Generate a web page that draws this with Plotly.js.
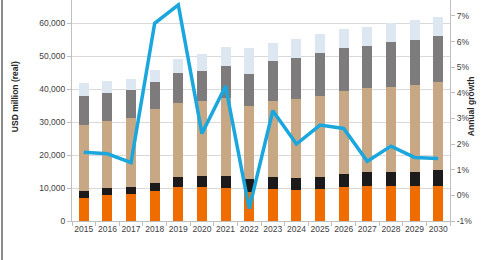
<!DOCTYPE html>
<html>
<head>
<meta charset="utf-8">
<script src="https://cdn.plot.ly/plotly-3.0.1.min.js"></script>
<style>
html,body{margin:0;padding:0;background:#fff;}
#chart{width:500px;height:260px;}
</style>
</head>
<body>
<div id="chart"></div>
<script>
const years = ['2015','2016','2017','2018','2019','2020','2021','2022','2023','2024','2025','2026','2027','2028','2029','2030'];
// stacked segment heights (USD million, real)
const orangeSeg = [7110, 7810, 8120, 9030, 10450, 10450, 10150, 8810, 9850, 9540, 9640, 10240, 10550, 10550, 10550, 10760];
const blackSeg  = [2130, 2130, 2330, 2430, 2830, 3230, 3530, 4080, 3430, 3650, 3850, 4060, 4250, 4460, 4460, 4760];
const tanSeg    = [19850, 20360, 20860, 22490, 22590, 22610, 23710, 21970, 23190, 23800, 24510, 25120, 25440, 25630, 26140, 26550];
const graySeg   = [8720, 8510, 8320, 8300, 8930, 9300, 9540, 9640, 12070, 12550, 12970, 13160, 12860, 13580, 13870, 14070];
const lightSeg  = [3950, 3740, 3350, 3650, 4350, 4990, 5770, 7900, 5560, 5600, 5780, 5690, 5870, 5870, 5980, 5770];
// annual growth (%)
const growth = [1.68, 1.62, 1.28, 6.71, 7.43, 2.41, 4.26, -0.52, 3.30, 2.00, 2.74, 2.61, 1.33, 1.92, 1.48, 1.44];
const leftTicks = [0, 10000, 20000, 30000, 40000, 50000, 60000];
const leftTickText = ['0', '10,000', '20,000', '30,000', '40,000', '50,000', '60,000'];
const rightTicks = [-1, 0, 1, 2, 3, 4, 5, 6, 7];
const rightTickText = ['-1%', '0%', '1%', '2%', '3%', '4%', '5%', '6%', '7%'];

const segs = [
  {y: orangeSeg, c: '#EE6C00'},
  {y: blackSeg, c: '#1C1A1A'},
  {y: tanSeg, c: '#C8A884'},
  {y: graySeg, c: '#7D7B7B'},
  {y: lightSeg, c: '#DDE7F1'}
];
const traces = segs.map(s => ({
  type: 'bar', x: years, y: s.y, marker: {color: s.c, line: {width: 0}},
  yaxis: 'y', hoverinfo: 'none'
}));
traces.push({
  type: 'scatter', mode: 'lines', x: years, y: growth, yaxis: 'y2',
  line: {color: '#1AA7DE', width: 3.5}, hoverinfo: 'none'
});

const tickFont = {family: 'Liberation Sans, Arial, sans-serif', size: 8.5, color: '#404040'};
const layout = {
  width: 500, height: 260,
  margin: {l: 72, r: 50, t: 0, b: 39},
  barmode: 'stack', bargap: 0.58,
  showlegend: false,
  paper_bgcolor: '#fff', plot_bgcolor: '#fff',
  xaxis: {
    type: 'category', tickfont: tickFont, tickangle: 0, showgrid: false,
    showline: true, linecolor: '#BFBFBF', linewidth: 1,
    ticks: 'outside', ticklen: 4, tickcolor: '#BFBFBF', tickson: 'boundaries',
    zeroline: false
  },
  yaxis: {
    range: [0, 67080], tickvals: leftTicks, ticktext: leftTickText,
    tickfont: tickFont, showgrid: true, gridcolor: '#D9D9D9', gridwidth: 1,
    showline: true, linecolor: '#BFBFBF', linewidth: 1,
    ticks: 'outside', ticklen: 4, tickcolor: '#BFBFBF', zeroline: false
  },
  yaxis2: {
    overlaying: 'y', side: 'right', range: [-1, 7.62],
    tickvals: rightTicks, ticktext: rightTickText, tickfont: tickFont,
    showgrid: false, showline: true, linecolor: '#BFBFBF', linewidth: 1,
    ticks: 'outside', ticklen: 4, tickcolor: '#BFBFBF', zeroline: false
  },
  annotations: [
    {text: '<b>USD million (real)</b>', xref: 'paper', yref: 'paper',
     x: (15 - 72) / 378, y: (220.7 - 97) / 220.7, textangle: -90, showarrow: false,
     font: {family: 'Liberation Sans, Arial, sans-serif', size: 8.5, color: '#262626'},
     xanchor: 'center', yanchor: 'middle'},
    {text: '<b>Annual growth</b>', xref: 'paper', yref: 'paper',
     x: (471 - 72) / 378, y: (220.7 - 106) / 220.7, textangle: -90, showarrow: false,
     font: {family: 'Liberation Sans, Arial, sans-serif', size: 8.5, color: '#262626'},
     xanchor: 'center', yanchor: 'middle'}
  ],
  shapes: [
    {type: 'line', xref: 'paper', yref: 'paper', x0: (2 - 72) / 378, x1: (2 - 72) / 378,
     y0: -39 / 220.7, y1: 1, line: {color: '#8C8C8C', width: 2}}
  ]
};
Plotly.newPlot('chart', traces, layout, {displayModeBar: false, staticPlot: true});
</script>
</body>
</html>
